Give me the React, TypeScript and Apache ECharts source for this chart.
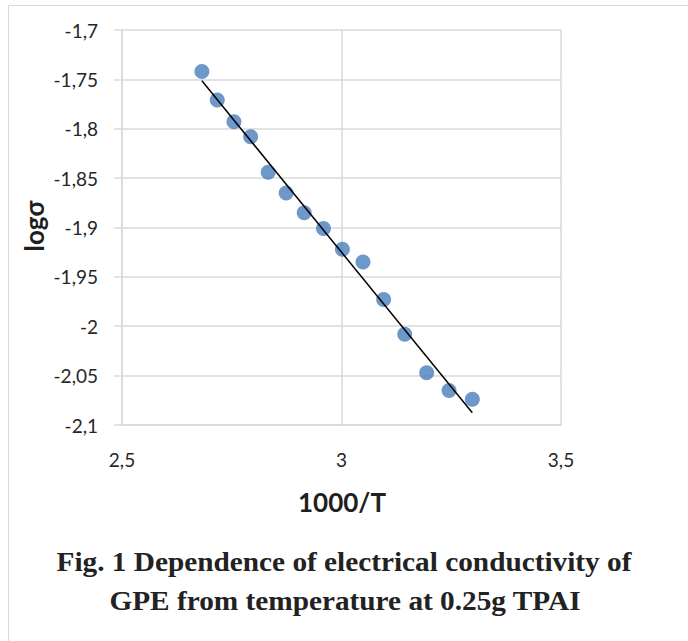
import React, { useEffect, useRef } from "react";
import * as echarts from "echarts";

const invT: number[] = [2.682, 2.717, 2.755, 2.793, 2.833, 2.874, 2.915, 2.959, 3.002, 3.049, 3.096, 3.144, 3.194, 3.245, 3.298];
const logSigma: number[] = [-1.742, -1.771, -1.793, -1.808, -1.844, -1.865, -1.885, -1.901, -1.922, -1.935, -1.973, -2.008, -2.047, -2.065, -2.074];
const xTicks = { min: 2.5, max: 3.5, interval: 0.5 };
const yTicks = { min: -2.1, max: -1.7, interval: 0.05 };
const xTitle = "1000/T";
const yTitle = "logσ";
const captionLines = ["Fig. 1 Dependence of electrical conductivity of", "GPE from temperature at 0.25g TPAI"];

function fitLine(xs: number[], ys: number[]) {
  const n = xs.length;
  const mx = xs.reduce((a, b) => a + b, 0) / n;
  const my = ys.reduce((a, b) => a + b, 0) / n;
  let sxy = 0, sxx = 0;
  for (let i = 0; i < n; i++) {
    sxy += (xs[i] - mx) * (ys[i] - my);
    sxx += (xs[i] - mx) * (xs[i] - mx);
  }
  const slope = sxy / sxx;
  const icpt = my - slope * mx;
  const x0 = Math.min(...xs), x1 = Math.max(...xs);
  return [[x0, icpt + slope * x0], [x1, icpt + slope * x1]];
}

const fmt = (v: number) => {
  const r = Math.round(v * 1000) / 1000;
  return String(r).replace(".", ",");
};

export default function App() {
  const ref = useRef<HTMLDivElement>(null);
  useEffect(() => {
    if (!ref.current) return;
    const chart = echarts.init(ref.current, undefined, { renderer: "svg" });
    const grid = "#d9d9d9";
    const labelFont = "Lato, 'Open Sans', sans-serif";
    const capFont = "bold 27px 'Liberation Serif', 'Times New Roman', serif";
    chart.setOption({
      animation: false,
      backgroundColor: "#ffffff",
      grid: { left: 122, top: 30, width: 439, height: 395, containLabel: false },
      xAxis: {
        type: "value",
        min: xTicks.min,
        max: xTicks.max,
        interval: xTicks.interval,
        axisLine: { show: true, lineStyle: { color: grid, width: 1.5 } },
        axisTick: { show: false },
        splitLine: { show: true, lineStyle: { color: grid, width: 1.5 } },
        axisLabel: { formatter: fmt, color: "#262626", fontSize: 19, fontFamily: labelFont, margin: 25 },
      },
      yAxis: {
        type: "value",
        min: yTicks.min,
        max: yTicks.max,
        interval: yTicks.interval,
        axisLine: { show: true, lineStyle: { color: grid, width: 1.5 } },
        axisTick: { show: true, length: 8, lineStyle: { color: grid, width: 1.5 } },
        splitLine: { show: true, lineStyle: { color: grid, width: 1.5 } },
        axisLabel: { formatter: fmt, color: "#262626", fontSize: 19, fontFamily: labelFont, margin: 24 },
      },
      series: [
        {
          type: "scatter",
          data: invT.map((x, i) => [x, logSigma[i]]),
          symbol: "circle",
          symbolSize: 15,
          itemStyle: { color: "#4a7ebb" },
          z: 2,
        },
        {
          type: "line",
          data: fitLine(invT, logSigma),
          symbol: "none",
          lineStyle: { color: "#000000", width: 1.5 },
          z: 3,
        },
      ],
      graphic: [
        {
          type: "rect",
          shape: { x: 8.5, y: 5.5, width: 720, height: 700 },
          style: { fill: "none", stroke: "#d9d9d9", lineWidth: 1 },
          silent: true,
        },
        {
          type: "text",
          x: 34,
          y: 226,
          rotation: Math.PI / 2,
          style: {
            text: yTitle,
            font: `bold 26px ${labelFont}`,
            fill: "#1f1f1f",
            textAlign: "center",
            textVerticalAlign: "middle",
          },
        },
        {
          type: "text",
          x: 342,
          y: 502,
          style: {
            text: xTitle,
            font: `bold 26px ${labelFont}`,
            fill: "#1f1f1f",
            textAlign: "center",
            textVerticalAlign: "middle",
          },
        },
        {
          type: "text",
          x: 344,
          y: 562,
          scaleX: 1.085,
          style: {
            text: captionLines[0],
            font: capFont,
            fill: "#222222",
            textAlign: "center",
            textVerticalAlign: "middle",
          },
        },
        {
          type: "text",
          x: 345,
          y: 601,
          scaleX: 1.085,
          style: {
            text: captionLines[1],
            font: capFont,
            fill: "#222222",
            textAlign: "center",
            textVerticalAlign: "middle",
          },
        },
      ],
    });
    return () => chart.dispose();
  }, []);
  return <div ref={ref} style={{ position: "fixed", left: 0, top: 0, width: 688, height: 641 }} />;
}
